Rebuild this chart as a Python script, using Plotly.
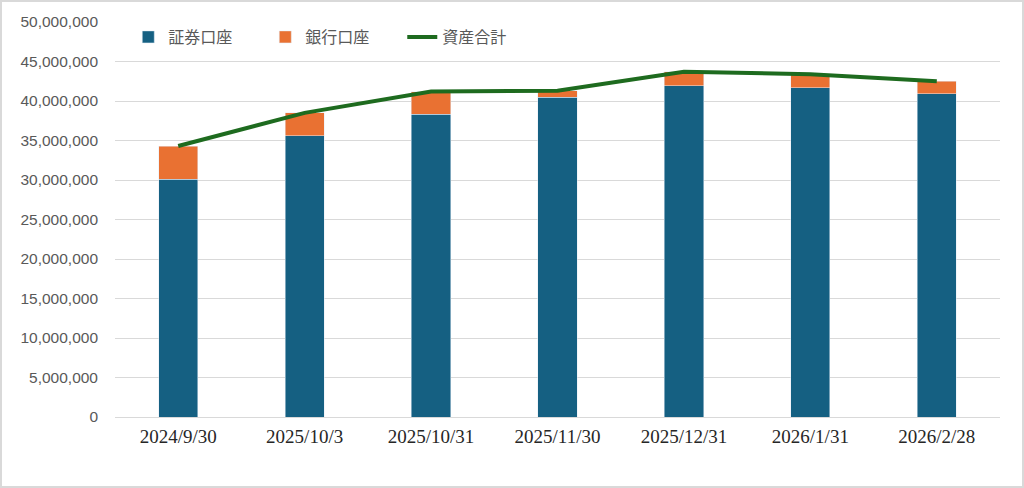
import plotly.graph_objects as go

# data
dates = ["2024/9/30", "2025/10/3", "2025/10/31", "2025/11/30", "2025/12/31", "2026/1/31", "2026/2/28"]
securities = [30100000, 35600000, 38300000, 40500000, 41900000, 41700000, 40900000]
bank = [4200000, 2900000, 2900000, 800000, 1800000, 1700000, 1600000]
total = [s + b for s, b in zip(securities, bank)]

fig = go.Figure()
fig.add_trace(go.Bar(x=dates, y=securities, name="証券口座", marker=dict(color="#156082")))
fig.add_trace(go.Bar(x=dates, y=bank, name="銀行口座", marker=dict(color="#E97132")))
fig.add_trace(go.Scatter(x=dates, y=total, name="資産合計", mode="lines",
                         line=dict(color="#1E6B1F", width=4)))

fig.update_layout(
    width=1024, height=488,
    barmode="stack", bargap=0.69,
    paper_bgcolor="white", plot_bgcolor="white",
    margin=dict(l=115, r=24, t=22, b=71),
    showlegend=True,
    legend=dict(orientation="h", x=0.015, y=0.962, xanchor="left", yanchor="middle",
                traceorder="normal",
                font=dict(family="Noto Sans CJK JP", size=16, color="#595959"),
                bgcolor="rgba(0,0,0,0)", itemwidth=30,
                entrywidth=92, entrywidthmode="pixels"),
    font=dict(family="Liberation Sans", color="#595959"),
)
fig.update_yaxes(range=[0, 50000000], dtick=5000000, tickformat=",d",
                 gridcolor="#D9D9D9", gridwidth=1, zeroline=False,
                 tickfont=dict(family="Liberation Sans", size=15.5, color="#595959"),
                 ticks="", ticklen=0, ticklabelstandoff=16)
fig.update_xaxes(type="category", range=[-0.5, 6.5], showline=True, linecolor="#D9D9D9",
                 linewidth=1, ticks="", ticklabelstandoff=2,
                 tickfont=dict(family="Liberation Serif", size=19, color="#262626"))

# light gray frame around the whole picture
fig.add_shape(type="rect", xref="paper", yref="paper",
              x0=-114 / 885, x1=(885 + 23) / 885, y0=-70 / 395, y1=(395 + 21) / 395,
              line=dict(color="#D9D9D9", width=2), fillcolor="rgba(0,0,0,0)")

# drop the default page margin so the figure sits at the window's corner
fig.write_html("out.html", config={"displayModeBar": False},
               post_script="document.body.style.margin='0';")
